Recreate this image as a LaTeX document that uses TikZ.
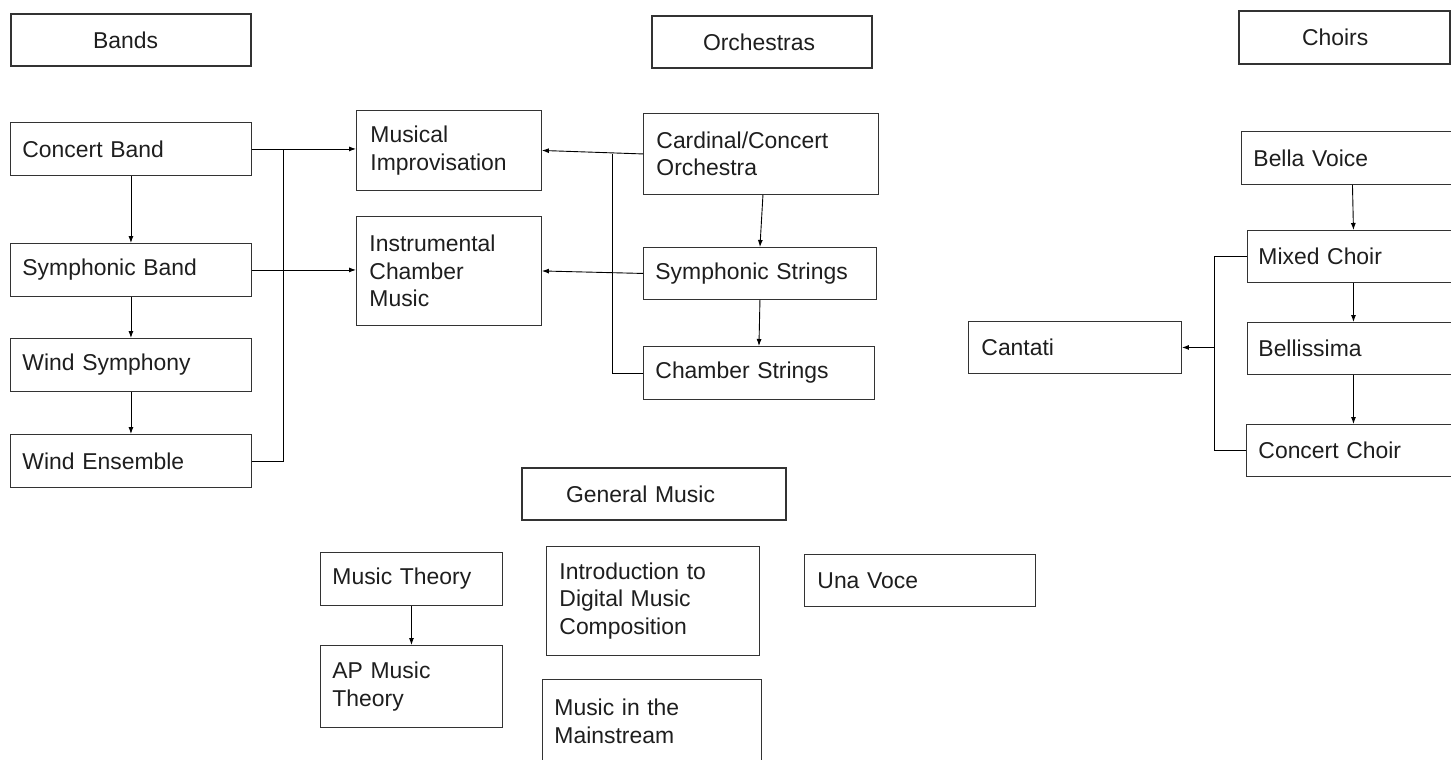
\documentclass[tikz,border=0pt]{standalone}
\usepackage{fontspec}
\setmainfont{Liberation Sans}
\usetikzlibrary{arrows.meta}
\definecolor{ln}{HTML}{333333}
\definecolor{tx}{HTML}{1E1E1E}
\tikzset{
  bx/.style n args={3}{draw=ln, line width=0.9bp, anchor=north west, inner xsep=0pt, inner ysep=0pt,
    minimum width=#1, minimum height=#2, text width=#3, align=left, text=tx},
  title/.style={line width=2bp},
  conn/.style={draw=black, line width=0.9bp},
  arr/.style={conn, -{Latex[length=7bp,width=5bp]}}
}
\begin{document}
\begin{tikzpicture}[x=1bp,y=-1bp, font=\fontsize{23}{27.5}\selectfont]
\fill[white] (0,0) rectangle (1451,759);
\useasboundingbox (0,0) rectangle (1451,759);
% titles
\node[bx={240bp}{52bp}{76bp}, title] (bands) at (10,13) {Bands};
\node[bx={220bp}{52bp}{118bp}, title] (orch) at (651,15) {Orchestras};
\node[bx={211bp}{53bp}{85bp}, title] (choirs) at (1238,10) {Choirs};
\node[bx={264bp}{52bp}{176bp}, title] (genm) at (521,467) {General Music};
% bands
\node[bx={241bp}{53bp}{217bp}] (cb) at (10,122) {Concert Band};
\node[bx={241bp}{53bp}{217bp}] (sb) at (10,243) {Symphonic Band};
\node[bx={241bp}{53bp}{217bp}] (ws) at (10,338) {Wind Symphony};
\node[bx={241bp}{53bp}{217bp}] (we) at (10,434) {Wind Ensemble};
% shared
\node[bx={185bp}{80bp}{157bp}] (mi) at (356,110) {Musical\\Improvisation};
\node[bx={185bp}{109bp}{159bp}] (ic) at (356,216) {Instrumental\\Chamber\\Music};
% orchestras
\node[bx={235bp}{81bp}{209bp}] (co) at (643,113) {Cardinal/Concert\\Orchestra};
\node[bx={233bp}{52bp}{209bp}] (ss) at (643,247) {Symphonic Strings};
\node[bx={231bp}{53bp}{207bp}] (chs) at (643,346) {Chamber Strings};
% choirs
\node[bx={222bp}{53bp}{198bp}] (bv) at (1241,131) {Bella Voice};
\node[bx={212bp}{52bp}{190bp}] (mc) at (1247,230) {Mixed Choir};
\node[bx={212bp}{52bp}{190bp}] (bel) at (1247,322) {Bellissima};
\node[bx={214bp}{52bp}{190bp}] (cch) at (1246,424) {Concert Choir};
\node[bx={213bp}{52bp}{187bp}] (can) at (968,321) {Cantati};
% general music
\node[bx={182bp}{53bp}{158bp}] (mt) at (320,552) {Music Theory};
\node[bx={182bp}{82bp}{158bp}] (ap) at (320,645) {AP Music\\Theory};
\node[bx={213bp}{109bp}{187bp}] (intro) at (546,546) {Introduction to\\Digital Music\\Composition};
\node[bx={219bp}{84bp}{195bp}] (mm) at (542,679) {Music in the\\Mainstream};
\node[bx={231bp}{52bp}{205bp}] (uv) at (804,554) {Una Voce};
% junction coordinates
\coordinate (jb) at (283,0);
\coordinate (jo) at (612,0);
\coordinate (jc) at (1214,0);
% band connectors
\draw[arr] (cb.south) -- (sb.north);
\draw[arr] (sb.south) -- (ws.north);
\draw[arr] (ws.south) -- (we.north);
\draw[arr] (cb.east) -- (mi.west |- cb.east);
\draw[conn] (we.east) -| (jb |- cb.east);
\draw[arr] (sb.east) -- (ic.west |- sb.east);
% orchestra connectors
\draw[arr] (co.west) -- (mi.east);
\draw[conn] (chs.west) -| (jo |- co.west);
\draw[arr] (ss.west) -- (ic.east);
\draw[arr] ([xshift=2bp]co.south) -- (ss.north);
\draw[arr] (ss.south) -- (chs.north);
% choir connectors
\draw[arr] (bv.south) -- (mc.north);
\draw[arr] (mc.south) -- (bel.north);
\draw[arr] (bel.south) -- (cch.north);
\draw[conn] (mc.west) -| (jc |- cch.west) -- (cch.west);
\draw[arr] (jc |- can.east) -- (can.east);
% general music
\draw[arr] (mt.south) -- (ap.north);
\end{tikzpicture}
\end{document}
